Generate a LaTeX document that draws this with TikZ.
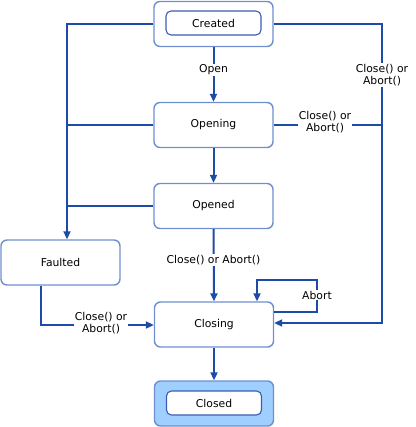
\documentclass[tikz,border=0pt]{standalone}
\usepackage{fontspec}
\setmainfont{DejaVu Sans}
\usetikzlibrary{arrows.meta}
\definecolor{linkblue}{HTML}{1E4AA8}
\definecolor{boxblue}{HTML}{6E8FCF}
\definecolor{innerblue}{HTML}{3A5DB0}
\definecolor{fillblue}{HTML}{9ECFFF}

\begin{document}
\begin{tikzpicture}[x=1pt,y=-1pt,
    every node/.style={font=\fontsize{10.8}{12.5}\selectfont},
    state/.style={draw=boxblue,line width=1.4pt,rounded corners=6pt,minimum width=119pt,minimum height=45pt,inner sep=0pt},
    inner/.style={draw=innerblue,line width=1.1pt,rounded corners=5pt,minimum width=95pt,minimum height=24pt,inner sep=0pt,fill=white},
    link/.style={draw=linkblue,line width=2pt},
    arr/.style={link,-{Triangle[length=8pt,width=7pt]}},
    lbl/.style={fill=white,inner sep=1pt,align=center}]

    \useasboundingbox (0,0) rectangle (415,427);

    % states
    \node[state] (created) at (213.5,24) {};
    \node[inner] (createdin) at (213.5,23) {Created};
    \node[state] (opening) at (213.5,125) {Opening};
    \node[state] (opened) at (213.5,206) {Opened};
    \node[state] (faulted) at (60.5,262.5) {Faulted};
    \node[state] (closing) at (214,324.5) {Closing};
    \node[state,fill=fillblue] (closed) at (214,403.5) {};
    \node[inner] (closedin) at (214,403) {Closed};

    % corner points
    \coordinate (lft) at (67,24);
    \coordinate (rgt) at (382,24);
    \coordinate (fdown) at (41,325);
    \coordinate (loopa) at (317,312);
    \coordinate (loopb) at (317,280);
    \coordinate (loopc) at (257,280);

    \draw[arr] (created.south) to (opening.north); % created -> opening
    \node[lbl] (openlbl) at (213.5,70) {Open};
    \draw[arr] (opening.south) to (opened.north); % opening -> opened
    \draw[arr] (opened.south) to (closing.north); % opened -> closing
    \node[lbl] (openedlbl) at (213.5,260) {Close() or Abort()};
    \draw[arr] (closing.south) to (closed.north); % closing -> closed

    \draw[arr] (created.west) -- (lft) -- (lft |- faulted.north); % any -> faulted
    \draw[link] (opening.west) -- (opening.west -| lft);
    \draw[link] (opened.west) -- (opened.west -| lft);

    \draw[arr] (created.east) -- (rgt) -- (rgt |- 0,323) -- (closing.east |- 0,323); % created -> closing
    \node[lbl] (createdlbl) at (382,75) {Close() or\\Abort()};
    \draw[link] (opening.east) -- (opening.east -| rgt); % opening -> closing
    \node[lbl] (openinglbl) at (325,122) {Close() or\\Abort()};

    \draw[arr] (faulted.south -| fdown) -- (fdown) -- (closing.west |- fdown); % faulted -> closing
    \node[lbl] (faultedlbl) at (101,323) {Close() or\\Abort()};

    \draw[arr] (closing.east |- loopa) -- (loopa) -- (loopb) -- (loopc) -- (loopc |- closing.north); % abort loop
    \node[lbl] (abortlbl) at (317,295) {Abort};

\end{tikzpicture}
\end{document}
